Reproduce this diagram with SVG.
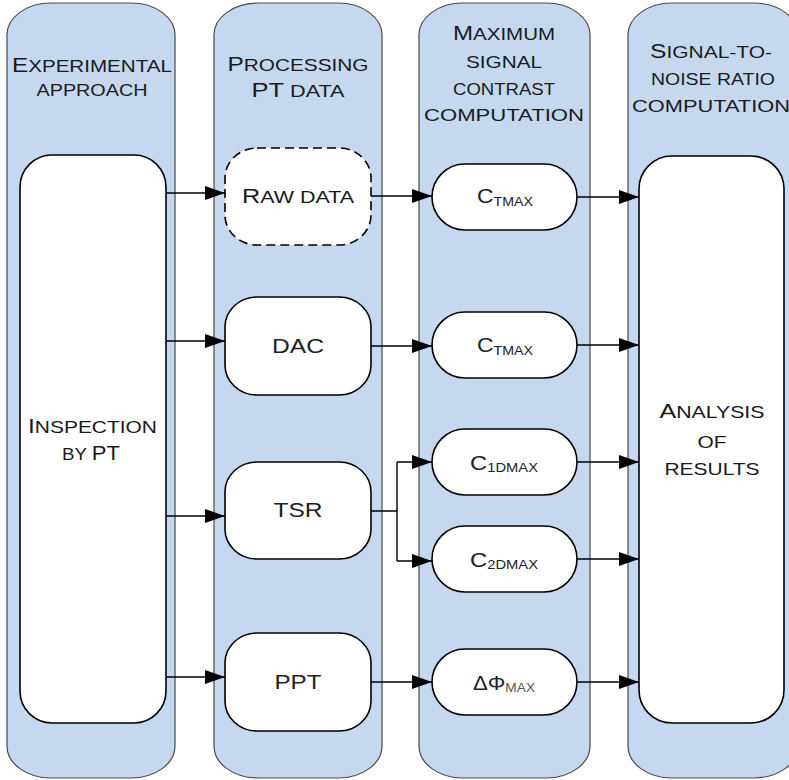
<svg xmlns="http://www.w3.org/2000/svg" width="789" height="780" viewBox="0 0 789 780">
  <defs>
    <marker id="arrow" markerUnits="userSpaceOnUse" markerWidth="20" markerHeight="14" refX="20" refY="7" orient="auto">
      <path d="M0,0 L20,7 L0,14 z" fill="#000"/>
    </marker>
    <style>
      .lane { fill: #c6d8ef; stroke: #4a4a4a; stroke-width: 1.2; }
      .box { fill: #fff; stroke: #000; stroke-width: 1.6; }
      .dashed { stroke-dasharray: 9 5; }
      .hdr { font-family: "Liberation Sans", Arial, sans-serif; font-size: 17px; fill: #1a1a1a; text-anchor: middle; }
      .hdr .cap { font-size: 20px; }
      .lbl { font-family: "Liberation Sans", Arial, sans-serif; font-size: 21px; fill: #222; text-anchor: middle; }
      .lbl .sub { font-size: 13px; }
      .lbl .subg { font-size: 13px; fill: #555; }
      .conn { fill: none; stroke: #000; stroke-width: 1.4; }
      .conn .arr { marker-end: url(#arrow); }
    </style>
  </defs>

  <!-- swimlanes -->
  <g id="lane-experimental">
    <rect class="lane" x="7" y="3" width="168" height="775" rx="44" ry="32"/>
    <text class="hdr" x="92" y="72" textLength="160" lengthAdjust="spacingAndGlyphs"><tspan class="cap">E</tspan>XPERIMENTAL</text>
    <text class="hdr" x="92" y="96" textLength="111" lengthAdjust="spacingAndGlyphs">APPROACH</text>
  </g>
  <g id="lane-processing">
    <rect class="lane" x="214" y="3" width="168" height="775" rx="44" ry="32"/>
    <text class="hdr" x="298" y="71" textLength="141" lengthAdjust="spacingAndGlyphs"><tspan class="cap">P</tspan>ROCESSING</text>
    <text class="hdr" x="298" y="97" textLength="93" lengthAdjust="spacingAndGlyphs"><tspan class="cap">PT</tspan> DATA</text>
  </g>
  <g id="lane-contrast">
    <rect class="lane" x="419" y="3" width="171" height="775" rx="44" ry="32"/>
    <text class="hdr" x="504" y="40" textLength="102" lengthAdjust="spacingAndGlyphs"><tspan class="cap">M</tspan>AXIMUM</text>
    <text class="hdr" x="504" y="68" textLength="76" lengthAdjust="spacingAndGlyphs">SIGNAL</text>
    <text class="hdr" x="504" y="95" textLength="102" lengthAdjust="spacingAndGlyphs">CONTRAST</text>
    <text class="hdr" x="504" y="121" textLength="160" lengthAdjust="spacingAndGlyphs">COMPUTATION</text>
  </g>
  <g id="lane-snr">
    <rect class="lane" x="628" y="3" width="170" height="775" rx="44" ry="32"/>
    <text class="hdr" x="711" y="58" textLength="122" lengthAdjust="spacingAndGlyphs"><tspan class="cap">S</tspan>IGNAL-TO-</text>
    <text class="hdr" x="713" y="85" textLength="124" lengthAdjust="spacingAndGlyphs">NOISE RATIO</text>
    <text class="hdr" x="711" y="112" textLength="158" lengthAdjust="spacingAndGlyphs">COMPUTATION</text>
  </g>

  <!-- nodes -->
  <g id="inspection">
    <rect class="box" x="20" y="155" width="146" height="568" rx="32" ry="32"/>
    <text class="hdr" x="92.5" y="433" textLength="129" lengthAdjust="spacingAndGlyphs"><tspan class="cap">I</tspan>NSPECTION</text>
    <text class="hdr" x="91" y="460" textLength="58" lengthAdjust="spacingAndGlyphs">BY <tspan class="cap">PT</tspan></text>
  </g>
  <g id="raw-data">
    <rect class="box dashed" x="225" y="148" width="146" height="97" rx="32" ry="30"/>
    <text class="hdr" x="298" y="203" textLength="112" lengthAdjust="spacingAndGlyphs"><tspan class="cap">R</tspan>AW DATA</text>
  </g>
  <g id="dac">
    <rect class="box" x="225" y="297" width="146" height="98" rx="32" ry="30"/>
    <text class="lbl" x="298" y="353" textLength="52" lengthAdjust="spacingAndGlyphs">DAC</text>
  </g>
  <g id="tsr">
    <rect class="box" x="225" y="462" width="146" height="97" rx="32" ry="30"/>
    <text class="lbl" x="298" y="517" textLength="49" lengthAdjust="spacingAndGlyphs">TSR</text>
  </g>
  <g id="ppt">
    <rect class="box" x="225" y="633" width="146" height="98" rx="32" ry="30"/>
    <text class="lbl" x="298" y="689" textLength="47" lengthAdjust="spacingAndGlyphs">PPT</text>
  </g>

  <g id="ctmax-raw">
    <rect class="box" x="432" y="164" width="145" height="66" rx="33" ry="33"/>
    <text class="lbl" x="505" y="203" textLength="56" lengthAdjust="spacingAndGlyphs">C<tspan class="sub" dy="3">TMAX</tspan></text>
  </g>
  <g id="ctmax-dac">
    <rect class="box" x="432" y="312" width="145" height="66" rx="33" ry="33"/>
    <text class="lbl" x="505" y="352" textLength="56" lengthAdjust="spacingAndGlyphs">C<tspan class="sub" dy="3">TMAX</tspan></text>
  </g>
  <g id="c1dmax">
    <rect class="box" x="432" y="429" width="145" height="66" rx="33" ry="33"/>
    <text class="lbl" x="504" y="470" textLength="68" lengthAdjust="spacingAndGlyphs">C<tspan class="sub" dy="2">1DMAX</tspan></text>
  </g>
  <g id="c2dmax">
    <rect class="box" x="432" y="526" width="145" height="66" rx="33" ry="33"/>
    <text class="lbl" x="504" y="567" textLength="68" lengthAdjust="spacingAndGlyphs">C<tspan class="sub" dy="2">2DMAX</tspan></text>
  </g>
  <g id="dphimax">
    <rect class="box" x="432" y="649" width="145" height="66" rx="33" ry="33"/>
    <text class="lbl" x="504" y="690" textLength="62" lengthAdjust="spacingAndGlyphs">ΔΦ<tspan class="subg" dy="2">MAX</tspan></text>
  </g>

  <g id="analysis">
    <rect class="box" x="639" y="156" width="145" height="567" rx="33" ry="33"/>
    <text class="hdr" x="712" y="418" textLength="105" lengthAdjust="spacingAndGlyphs"><tspan class="cap">A</tspan>NALYSIS</text>
    <text class="hdr" x="712" y="448" textLength="29" lengthAdjust="spacingAndGlyphs">OF</text>
    <text class="hdr" x="712" y="475" textLength="95" lengthAdjust="spacingAndGlyphs">RESULTS</text>
  </g>

  <!-- connectors -->
  <g id="connectors" class="conn">
    <path class="arr" d="M166,193 H225"/>
    <path class="arr" d="M166,341 H225"/>
    <path class="arr" d="M166,516 H225"/>
    <path class="arr" d="M166,677 H225"/>

    <path class="arr" d="M371,196 H432"/>
    <path class="arr" d="M371,346 H432"/>
    <path d="M371,511 H397 M397,462 V561"/>
    <path class="arr" d="M397,462 H432"/>
    <path class="arr" d="M397,561 H432"/>
    <path class="arr" d="M371,682 H432"/>

    <path class="arr" d="M577,197 H639"/>
    <path class="arr" d="M577,345 H639"/>
    <path class="arr" d="M577,462 H639"/>
    <path class="arr" d="M577,559 H639"/>
    <path class="arr" d="M577,682 H639"/>
  </g>
</svg>
